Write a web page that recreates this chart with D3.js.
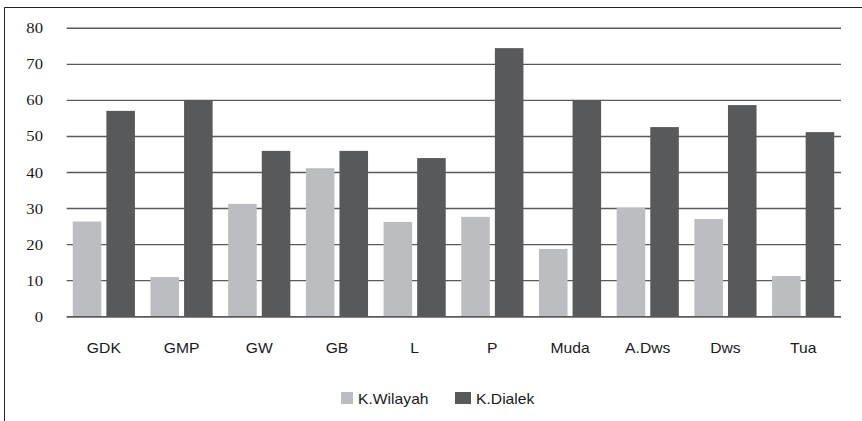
<!DOCTYPE html>
<html>
<head>
<meta charset="utf-8">
<script src="https://cdn.jsdelivr.net/npm/d3@7"></script>
<style>
  html, body { margin: 0; padding: 0; background: #fff; }
  svg { display: block; }
  .ylab { font-family: "Liberation Serif", "Times New Roman", serif; }
  .sans { font-family: "Liberation Sans", Arial, sans-serif; }
</style>
</head>
<body>
<svg id="chart" width="862" height="421"></svg>
<script>
const categories = ["GDK", "GMP", "GW", "GB", "L", "P", "Muda", "A.Dws", "Dws", "Tua"];
const seriesNames = ["K.Wilayah", "K.Dialek"];
const kWilayah = [26.4, 11.0, 31.3, 41.2, 26.3, 27.7, 18.8, 30.2, 27.1, 11.3];
const kDialek  = [57.1, 60.1, 46.0, 46.0, 44.0, 74.5, 60.1, 52.6, 58.7, 51.2];
const yTicks = [0, 10, 20, 30, 40, 50, 60, 70, 80];

const colors = ["#bcbdc0", "#58595b"];
const seriesValues = [kWilayah, kDialek];

const svg = d3.select("#chart");

// outer frame (left and top edges visible)
svg.append("line").attr("x1", 4.5).attr("x2", 4.5).attr("y1", 7.5).attr("y2", 421)
  .attr("stroke", "#222").attr("stroke-width", 1);
svg.append("line").attr("x1", 4.5).attr("x2", 862).attr("y1", 7.5).attr("y2", 7.5)
  .attr("stroke", "#222").attr("stroke-width", 1);

const y = d3.scaleLinear().domain([0, 80]).range([316.7, 28.3]);
const x0 = d3.scaleBand().domain(categories).range([65, 842]).paddingInner(0.2).paddingOuter(0.1);
const x1 = d3.scaleBand().domain(seriesNames).range([0, x0.bandwidth()]).paddingInner(0.15);

// gridlines
svg.append("g").selectAll("line").data(yTicks).join("line")
  .attr("x1", 66.7).attr("x2", 841)
  .attr("y1", d => y(d)).attr("y2", d => y(d))
  .attr("stroke", "#5a5a5a").attr("stroke-width", 1.4);

// y tick labels
svg.append("g").selectAll("text").data(yTicks).join("text")
  .attr("class", "ylab")
  .attr("transform", d => `translate(43,${y(d) + 5}) scale(1.15,1)`)
  .attr("text-anchor", "end")
  .attr("font-size", 14.5)
  .attr("fill", "#1a1a1a")
  .text(d => d);

// bars
const groups = svg.append("g").selectAll("g").data(categories).join("g")
  .attr("transform", d => `translate(${x0(d)},0)`);
groups.selectAll("rect")
  .data((d, i) => seriesNames.map((s, j) => ({ s, j, v: seriesValues[j][i] })))
  .join("rect")
  .attr("x", d => x1(d.s))
  .attr("width", x1.bandwidth())
  .attr("y", d => y(d.v))
  .attr("height", d => y(0) - y(d.v))
  .attr("fill", d => colors[d.j]);

// redraw baseline on top
svg.append("line").attr("x1", 66.7).attr("x2", 841).attr("y1", y(0)).attr("y2", y(0))
  .attr("stroke", "#5a5a5a").attr("stroke-width", 1.4);

// x labels
svg.append("g").selectAll("text").data(categories).join("text")
  .attr("class", "sans")
  .attr("transform", d => `translate(${x0(d) + x0.bandwidth() / 2},353) scale(1.12,1)`)
  .attr("text-anchor", "middle")
  .attr("font-size", 14)
  .attr("fill", "#1a1a1a")
  .text(d => d);

// legend
const legendItems = [
  { name: seriesNames[0], color: colors[0], x: 341, w: 12 },
  { name: seriesNames[1], color: colors[1], x: 455, w: 16 }
];
const lg = svg.append("g");
legendItems.forEach(it => {
  lg.append("rect").attr("x", it.x).attr("y", 392).attr("width", it.w).attr("height", 12).attr("fill", it.color);
  lg.append("text")
    .attr("class", "sans")
    .attr("transform", `translate(${it.x + it.w + 5},403.5) scale(1.12,1)`)
    .attr("font-size", 14)
    .attr("fill", "#1a1a1a")
    .text(it.name);
});
</script>
</body>
</html>
